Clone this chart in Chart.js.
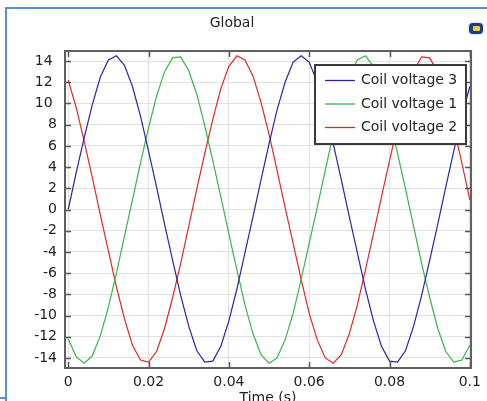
<!DOCTYPE html>
<html>
<head>
<meta charset="utf-8">
<script src="https://cdn.jsdelivr.net/npm/chart.js@4.4.0/dist/chart.umd.min.js"></script>
<style>
  html, body { margin: 0; padding: 0; background: #fff; }
  #wrap { position: relative; width: 487px; height: 401px; overflow: hidden; background: #fff; }
  #topline { position: absolute; left: 5px; top: 7px; width: 482px; height: 2px; background: #5a8fd0; }
  #leftline { position: absolute; left: 5px; top: 7px; width: 2px; height: 394px; background: #5a8fd0; }
  #botline { position: absolute; left: 0; top: 397px; width: 6px; height: 2px; background: #5a8fd0; }
  #icon { position: absolute; left: 469px; top: 23px; width: 14px; height: 11px; border-radius: 4px;
          background: #1c3d8c; box-shadow: 0 0 2px #7fa6e0; }
  #icon div { position: absolute; left: 4px; top: 3px; width: 7px; height: 5px; background: #f2c94c; border-radius: 1px; }
  canvas { position: absolute; left: 0; top: 0; }
</style>
</head>
<body>
<div id="wrap">
  <div id="topline"></div>
  <div id="leftline"></div>
  <div id="botline"></div>
  <div id="icon"><div></div></div>
  <canvas id="chart" width="487" height="401"></canvas>
</div>
<script>
// sample times (s)
const times = [0, 0.002, 0.004, 0.006, 0.008, 0.01, 0.012, 0.014, 0.016, 0.018,
  0.02, 0.022, 0.024, 0.026, 0.028, 0.03, 0.032, 0.034, 0.036, 0.038,
  0.04, 0.042, 0.044, 0.046, 0.048, 0.05, 0.052, 0.054, 0.056, 0.058,
  0.06, 0.062, 0.064, 0.066, 0.068, 0.07, 0.072, 0.074, 0.076, 0.078,
  0.08, 0.082, 0.084, 0.086, 0.088, 0.09, 0.092, 0.094, 0.096, 0.098, 0.1];

// coil voltages
const coil3 = [0.0, 3.5, 6.8, 9.9, 12.5, 14.1, 14.5, 13.6, 11.6, 8.8,
  5.5, 2.1, -1.4, -4.8, -8.1, -11.0, -13.3, -14.4, -14.3, -12.9,
  -10.5, -7.5, -4.1, -0.7, 2.8, 6.2, 9.4, 12.0, 13.9, 14.5,
  13.9, 12.0, 9.4, 6.2, 2.8, -0.7, -4.1, -7.5, -10.5, -12.9,
  -14.3, -14.4, -13.3, -11.0, -8.1, -4.8, -1.4, 2.1, 5.5, 8.8, 11.6];
const coil1 = [-12.2, -13.9, -14.5, -13.8, -11.9, -9.2, -6.0, -2.5, 0.9, 4.4,
  7.7, 10.7, 13.0, 14.3, 14.4, 13.1, 10.9, 7.9, 4.6, 1.2,
  -2.3, -5.7, -9.0, -11.7, -13.7, -14.5, -14.0, -12.3, -9.8, -6.6,
  -3.2, 0.2, 3.7, 7.1, 10.1, 12.6, 14.1, 14.5, 13.5, 11.4,
  8.5, 5.3, 1.9, -1.6, -5.1, -8.3, -11.2, -13.4, -14.4, -14.2, -12.8];
const coil2 = [12.2, 9.6, 6.4, 3.0, -0.5, -3.9, -7.3, -10.3, -12.8, -14.2,
  -14.4, -13.4, -11.2, -8.3, -5.1, -1.6, 1.9, 5.3, 8.5, 11.4,
  13.5, 14.5, 14.1, 12.6, 10.1, 7.1, 3.7, 0.2, -3.2, -6.6,
  -9.8, -12.3, -14.0, -14.5, -13.7, -11.7, -9.0, -5.7, -2.3, 1.2,
  4.6, 7.9, 10.9, 13.1, 14.4, 14.3, 13.0, 10.7, 7.7, 4.4, 0.9];

const seriesNames = ['Coil voltage 3', 'Coil voltage 1', 'Coil voltage 2'];
const xTicks = [0, 0.02, 0.04, 0.06, 0.08, 0.1];
const yTicks = [-14, -12, -10, -8, -6, -4, -2, 0, 2, 4, 6, 8, 10, 12, 14];

const FONT = 'DejaVu Sans';
const colors = ['#2626a8', '#3cb44a', '#e02828'];

function pts(ys) {
  return times.map((t, i) => ({ x: t, y: ys[i] }));
}

// frame, inner tick marks, title, axis title and legend box
const decorPlugin = {
  id: 'decor',
  afterDatasetsDraw(chart) {
    const ctx = chart.ctx;
    const a = chart.chartArea;
    const xs = chart.scales.x, ys = chart.scales.y;
    ctx.save();

    // inner tick marks on all four sides
    ctx.strokeStyle = '#555';
    ctx.lineWidth = 1.5;
    ctx.beginPath();
    xTicks.forEach(v => {
      const px = Math.round(xs.getPixelForValue(v)) + 0.5;
      ctx.moveTo(px, a.bottom); ctx.lineTo(px, a.bottom - 6);
      ctx.moveTo(px, a.top); ctx.lineTo(px, a.top + 6);
    });
    yTicks.forEach(v => {
      const py = Math.round(ys.getPixelForValue(v)) + 0.5;
      ctx.moveTo(a.left, py); ctx.lineTo(a.left + 6, py);
      ctx.moveTo(a.right, py); ctx.lineTo(a.right - 6, py);
    });
    ctx.stroke();

    // plot frame
    ctx.strokeStyle = '#5f5f5f';
    ctx.lineWidth = 2;
    ctx.strokeRect(a.left, a.top, a.right - a.left, a.bottom - a.top);

    // legend
    const lx = 315, ly = 65, lw = 151, lh = 79;
    ctx.fillStyle = '#fff';
    ctx.fillRect(lx, ly, lw, lh);
    ctx.strokeStyle = '#3a3a3a';
    ctx.lineWidth = 2;
    ctx.strokeRect(lx, ly, lw, lh);
    ctx.font = '14px "' + FONT + '"';
    ctx.textBaseline = 'middle';
    ctx.textAlign = 'left';
    const rowY = [80.5, 104, 127.5];
    chart.data.datasets.forEach((ds, i) => {
      ctx.strokeStyle = ds.borderColor;
      ctx.lineWidth = 1.3;
      ctx.beginPath();
      ctx.moveTo(325, rowY[i]); ctx.lineTo(355, rowY[i]);
      ctx.stroke();
      ctx.fillStyle = '#222';
      ctx.fillText(ds.label, 361, rowY[i]);
    });

    // title and x axis title
    ctx.fillStyle = '#222';
    ctx.textAlign = 'center';
    ctx.fillText('Global', 232, 23);
    ctx.textBaseline = 'top';
    ctx.fillText('Time (s)', (a.left + a.right) / 2, 391);

    ctx.restore();
  }
};

new Chart(document.getElementById('chart'), {
  type: 'line',
  data: {
    datasets: [
      { label: seriesNames[0], data: pts(coil3), borderColor: colors[0] },
      { label: seriesNames[1], data: pts(coil1), borderColor: colors[1] },
      { label: seriesNames[2], data: pts(coil2), borderColor: colors[2] }
    ]
  },
  options: {
    responsive: false,
    animation: false,
    parsing: false,
    layout: { padding: { left: 0, top: 51, right: 9, bottom: 0 } },
    elements: {
      point: { radius: 0 },
      line: { borderWidth: 1.2, tension: 0 }
    },
    plugins: {
      legend: { display: false },
      tooltip: { enabled: false },
      title: { display: false }
    },
    scales: {
      x: {
        type: 'linear',
        min: -0.0008,
        max: 0.1003,
        afterBuildTicks: s => { s.ticks = xTicks.map(v => ({ value: v })); },
        afterFit: s => { s.height = 33; },
        grid: { color: '#e2e2e2', drawTicks: false },
        border: { display: false },
        ticks: {
          padding: 6,
          color: '#222',
          font: { family: FONT, size: 14 },
          maxRotation: 0,
          callback: v => String(v)
        }
      },
      y: {
        min: -14.95,
        max: 14.95,
        afterBuildTicks: s => { s.ticks = yTicks.map(v => ({ value: v })); },
        afterFit: s => { s.width = 65; },
        grid: { color: '#e2e2e2', drawTicks: false },
        border: { display: false },
        ticks: {
          padding: 8,
          color: '#222',
          font: { family: FONT, size: 14 },
          callback: v => (v >= 10 ? v + ' ' : String(v))
        }
      }
    }
  },
  plugins: [decorPlugin]
});
</script>
</body>
</html>
